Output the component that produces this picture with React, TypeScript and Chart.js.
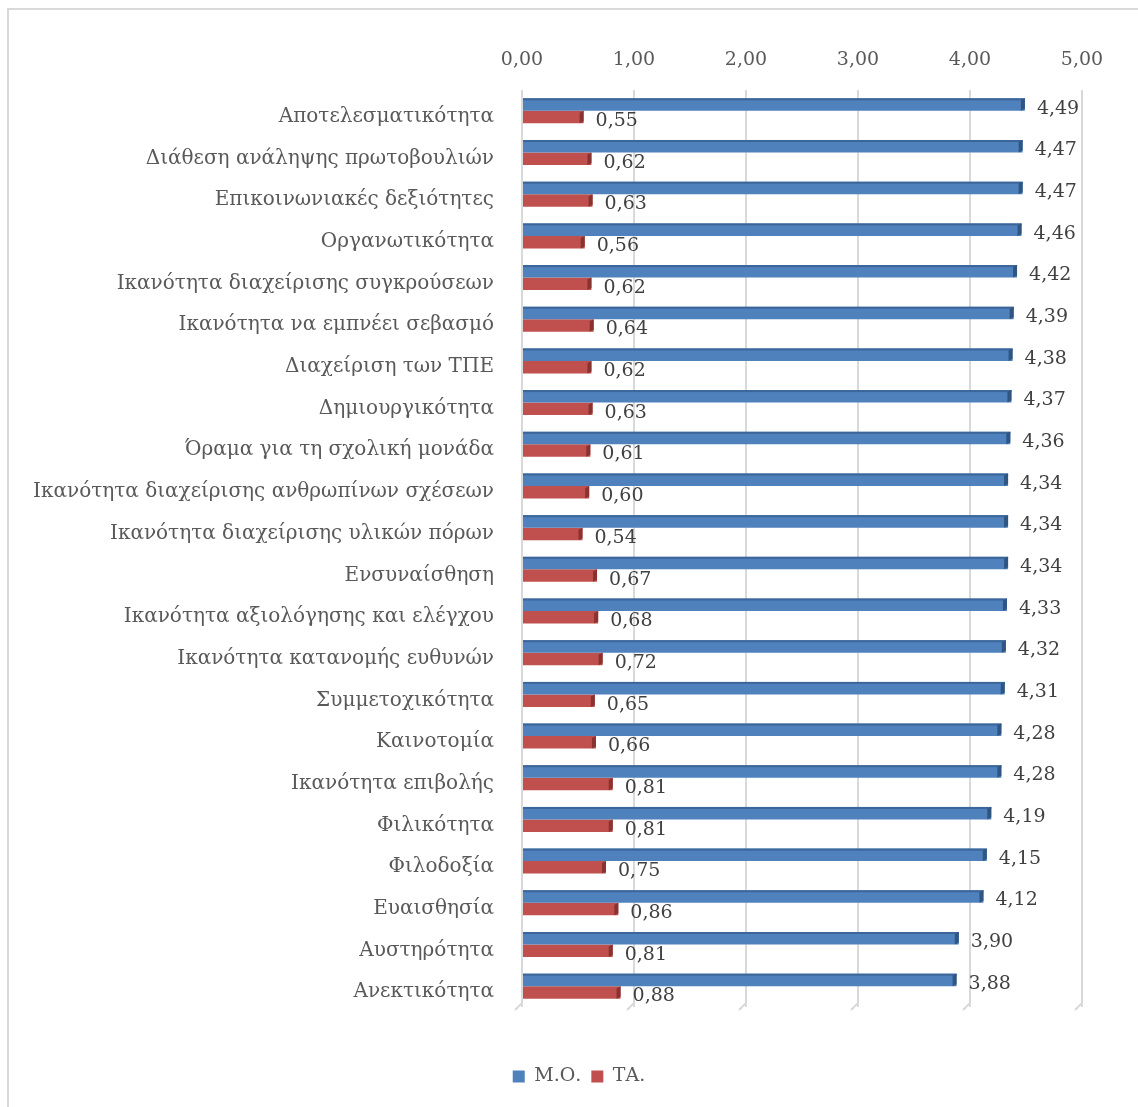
import React, { useEffect, useRef } from "react";
import { Chart, registerables } from "chart.js";

Chart.register(...registerables);

const categories = [
  "Αποτελεσματικότητα",
  "Διάθεση ανάληψης πρωτοβουλιών",
  "Επικοινωνιακές δεξιότητες",
  "Οργανωτικότητα",
  "Ικανότητα διαχείρισης συγκρούσεων",
  "Ικανότητα να εμπνέει σεβασμό",
  "Διαχείριση των ΤΠΕ",
  "Δημιουργικότητα",
  "Όραμα για τη σχολική μονάδα",
  "Ικανότητα διαχείρισης ανθρωπίνων σχέσεων",
  "Ικανότητα διαχείρισης υλικών πόρων",
  "Ενσυναίσθηση",
  "Ικανότητα αξιολόγησης και ελέγχου",
  "Ικανότητα κατανομής ευθυνών",
  "Συμμετοχικότητα",
  "Καινοτομία",
  "Ικανότητα επιβολής",
  "Φιλικότητα",
  "Φιλοδοξία",
  "Ευαισθησία",
  "Αυστηρότητα",
  "Ανεκτικότητα",
];

const meanValues = [
  4.49, 4.47, 4.47, 4.46, 4.42, 4.39, 4.38, 4.37, 4.36, 4.34, 4.34, 4.34, 4.33,
  4.32, 4.31, 4.28, 4.28, 4.19, 4.15, 4.12, 3.9, 3.88,
];

const sdValues = [
  0.55, 0.62, 0.63, 0.56, 0.62, 0.64, 0.62, 0.63, 0.61, 0.6, 0.54, 0.67, 0.68,
  0.72, 0.65, 0.66, 0.81, 0.81, 0.75, 0.86, 0.81, 0.88,
];

const seriesNames = ["Μ.Ο.", "ΤΑ."];
const xTicks = [0, 1, 2, 3, 4, 5];

const FONT = "'DejaVu Serif', serif";
const TEXT = "#595959";
const BLUE = "#4F81BD";
const RED = "#C0504D";
const BLUE_SIDE = "#2F5583";
const RED_SIDE = "#8A3230";
const BLUE_TOP = "#3C6699";
const GRID = "#D9D9D9";

const fmt = (v: number) => v.toFixed(2).replace(".", ",");

// Darker end faces and top edge give the bars their bevelled look
const bevelPlugin = {
  id: "bevel",
  afterDatasetsDraw(chart: any) {
    const ctx = chart.ctx;
    chart.data.datasets.forEach((ds: any, di: number) => {
      const meta = chart.getDatasetMeta(di);
      meta.data.forEach((el: any) => {
        const { x, y, base, height } = el.getProps(["x", "y", "base", "height"], true);
        const top = y - height / 2;
        const bottom = y + height / 2;
        ctx.save();
        if (di === 0) {
          ctx.fillStyle = BLUE_TOP;
          ctx.fillRect(base, top, x - base, 2);
        }
        ctx.fillStyle = di === 0 ? BLUE_SIDE : RED_SIDE;
        ctx.beginPath();
        ctx.moveTo(x - 4, top + 2);
        ctx.lineTo(x, top);
        ctx.lineTo(x, bottom - 2);
        ctx.lineTo(x - 4, bottom);
        ctx.closePath();
        ctx.fill();
        ctx.restore();
      });
    });
  },
};

// Value labels next to each bar end
const valueLabelPlugin = {
  id: "valueLabels",
  afterDatasetsDraw(chart: any) {
    const ctx = chart.ctx;
    ctx.save();
    ctx.font = `19px ${FONT}`;
    ctx.fillStyle = "#404040";
    ctx.textAlign = "left";
    ctx.textBaseline = "middle";
    chart.data.datasets.forEach((ds: any, di: number) => {
      const meta = chart.getDatasetMeta(di);
      meta.data.forEach((el: any, i: number) => {
        const { x, y } = el.getProps(["x", "y"], true);
        ctx.fillText(fmt(ds.data[i]), x + 12, y + 4);
      });
    });
    ctx.restore();
  },
};

// Slanted floor edge at the foot of each gridline
const floorPlugin = {
  id: "floorEdge",
  beforeDatasetsDraw(chart: any) {
    const ctx = chart.ctx;
    const xs = chart.scales.x;
    const bottom = chart.chartArea.bottom;
    ctx.save();
    ctx.strokeStyle = GRID;
    ctx.lineWidth = 2;
    xTicks.forEach((v) => {
      const px = xs.getPixelForValue(v);
      ctx.beginPath();
      ctx.moveTo(px, bottom - 4);
      ctx.lineTo(px - 7, bottom + 3);
      ctx.stroke();
    });
    ctx.restore();
  },
};

// Legend sits centred under the plot rather than under the whole canvas
const legendShiftPlugin = {
  id: "legendShift",
  afterLayout(chart: any) {
    if (chart.legend) chart.legend.left = 76;
  },
};

export default function App() {
  const canvasRef = useRef<HTMLCanvasElement | null>(null);

  useEffect(() => {
    if (!canvasRef.current) return;
    const chart = new Chart(canvasRef.current, {
      type: "bar",
      data: {
        labels: categories,
        datasets: [
          {
            label: seriesNames[0],
            data: meanValues,
            backgroundColor: BLUE,
            borderWidth: 0,
            categoryPercentage: 0.6,
            barPercentage: 1,
          },
          {
            label: seriesNames[1],
            data: sdValues,
            backgroundColor: RED,
            borderWidth: 0,
            categoryPercentage: 0.6,
            barPercentage: 1,
          },
        ],
      },
      options: {
        indexAxis: "y",
        responsive: false,
        animation: false,
        devicePixelRatio: 1,
        layout: { padding: { left: 0, right: 56, top: 0, bottom: 11 } },
        plugins: {
          tooltip: { enabled: false },
          legend: {
            position: "bottom",
            labels: {
              boxWidth: 12,
              boxHeight: 12,
              padding: 10,
              color: TEXT,
              font: { family: FONT, size: 19 },
            },
          },
        },
        scales: {
          x: {
            type: "linear",
            position: "top",
            min: 0,
            max: 5,
            afterBuildTicks: (s: any) => {
              s.ticks = xTicks.map((v) => ({ value: v }));
            },
            afterFit: (s: any) => {
              s.height = 90;
            },
            ticks: {
              padding: 19,
              color: TEXT,
              font: { family: FONT, size: 19 },
              callback: (v: any) => fmt(Number(v)),
            },
            grid: { color: GRID, lineWidth: 2, drawTicks: false },
            border: { display: false },
          },
          xSpacer: {
            type: "linear",
            position: "bottom",
            display: true,
            afterFit: (s: any) => {
              s.height = 50;
            },
            ticks: { display: false },
            grid: { display: false },
            border: { display: false },
          },
          y: {
            afterFit: (s: any) => {
              s.width = 522;
            },
            ticks: {
              padding: 28,
              labelOffset: 6,
              color: TEXT,
              font: { family: FONT, size: 20 },
            },
            grid: { display: false, drawTicks: false },
            border: { display: false },
          },
        },
      },
      plugins: [floorPlugin, bevelPlugin, valueLabelPlugin, legendShiftPlugin],
    } as any);
    return () => chart.destroy();
  }, []);

  return (
    <>
      <div
        style={{
          position: "fixed",
          left: 7,
          top: 8,
          width: 2000,
          height: 2000,
          borderLeft: `2px solid ${GRID}`,
          borderTop: `2px solid ${GRID}`,
          background: "#fff",
        }}
      />
      <canvas
        ref={canvasRef}
        width={1138}
        height={1107}
        style={{ position: "fixed", left: 0, top: 0, width: 1138, height: 1107 }}
      />
    </>
  );
}
